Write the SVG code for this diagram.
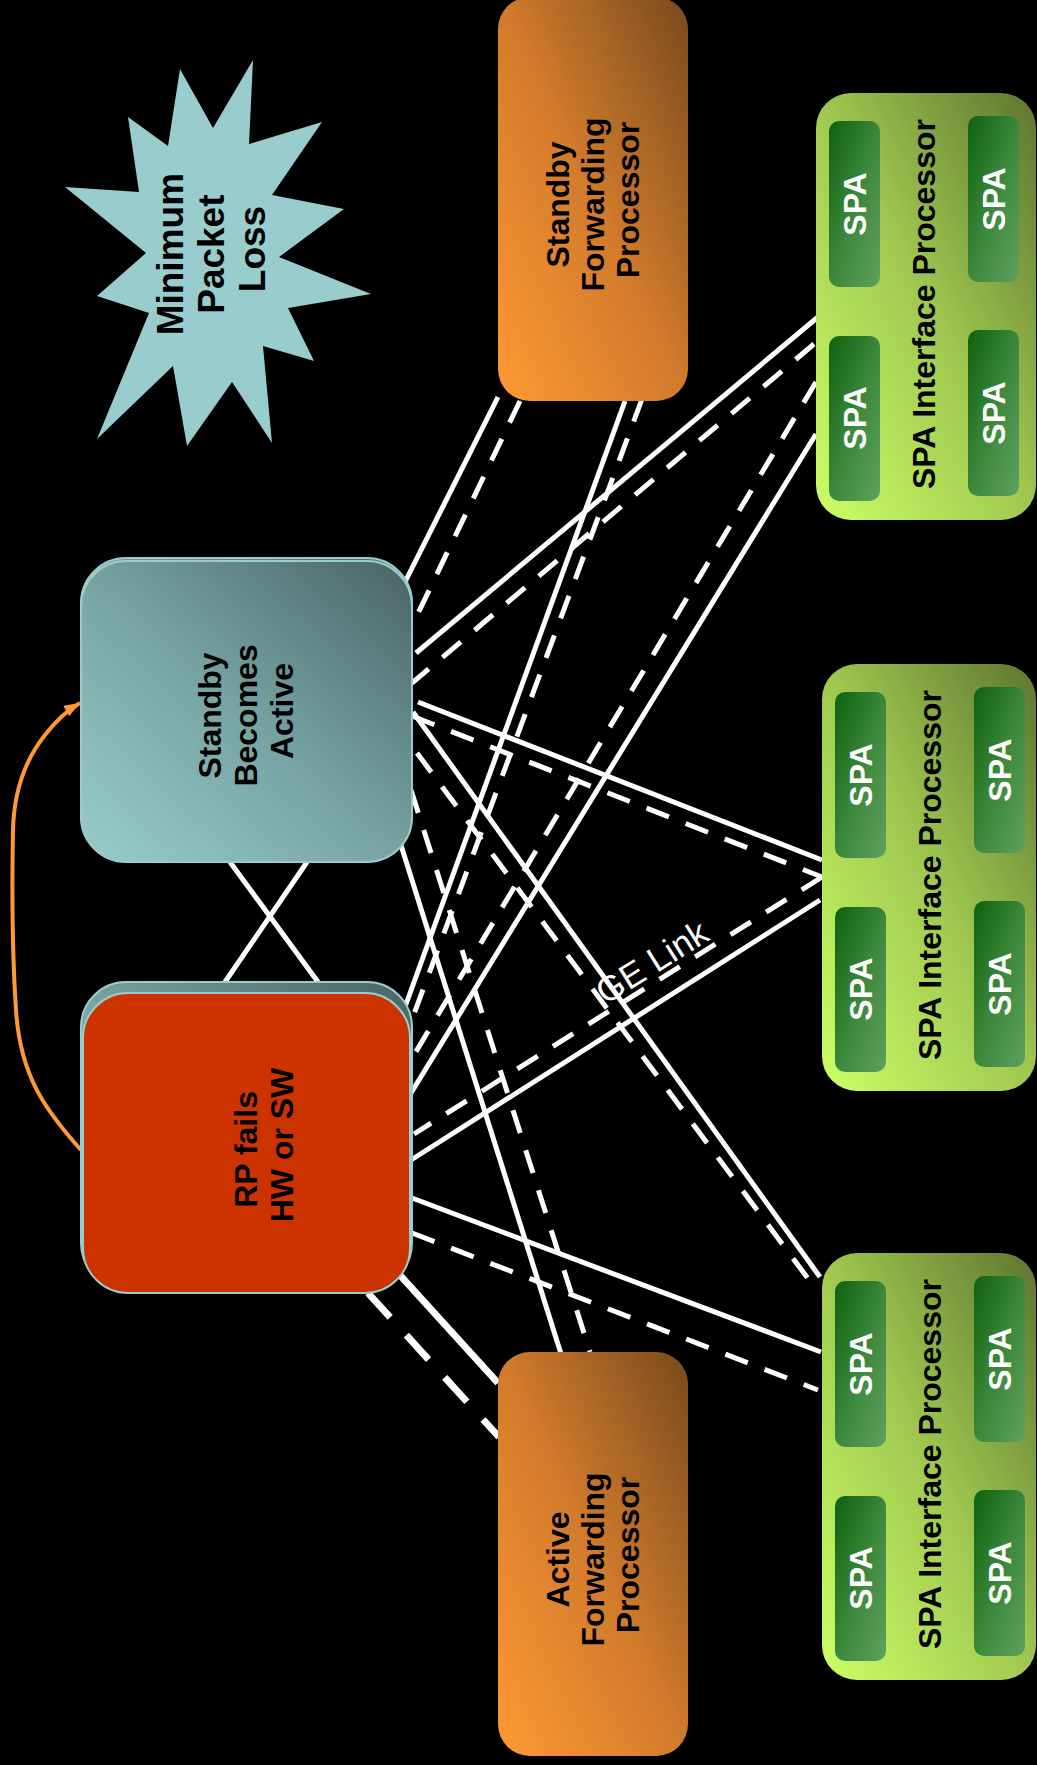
<svg xmlns="http://www.w3.org/2000/svg" width="1037" height="1765" viewBox="0 0 1037 1765">
  <defs>
    <linearGradient id="gOrange" x1="0" y1="1" x2="1" y2="0">
      <stop offset="0" stop-color="#FF9933"/>
      <stop offset="0.5" stop-color="#D27B2C"/>
      <stop offset="1" stop-color="#774A1C"/>
    </linearGradient>
    <linearGradient id="gTeal" x1="0" y1="1" x2="1" y2="0">
      <stop offset="0" stop-color="#99CCCC"/>
      <stop offset="0.5" stop-color="#76A2A2"/>
      <stop offset="1" stop-color="#4A6363"/>
    </linearGradient>
    <linearGradient id="gLime" x1="0" y1="1" x2="1" y2="0">
      <stop offset="0" stop-color="#CCFF66"/>
      <stop offset="0.5" stop-color="#A0C850"/>
      <stop offset="1" stop-color="#5E7530"/>
    </linearGradient>
    <linearGradient id="gSpa" x1="0" y1="0" x2="1" y2="1">
      <stop offset="0" stop-color="#0E620E"/>
      <stop offset="0.55" stop-color="#3F8A3F"/>
      <stop offset="1" stop-color="#5FA05F"/>
    </linearGradient>
    <marker id="arrowHead" markerUnits="userSpaceOnUse" markerWidth="18" markerHeight="14" refX="16" refY="7" orient="auto">
      <path d="M0,1 L16,7 L0,13 Z" fill="#FF9933"/>
    </marker>
    <style>
      .lbl { font-family: "Liberation Sans", Arial, sans-serif; font-weight: bold; fill: #000; text-anchor: middle; }
      .spa { font-family: "Liberation Sans", Arial, sans-serif; font-weight: bold; fill: #fff; text-anchor: middle; font-size: 32px; }
      .ln { stroke: #fff; stroke-width: 5; fill: none; }
      .dash { stroke-dasharray: 24 18; }
      .thick { stroke-width: 7; }
      .thickdash { stroke-dasharray: 33 24; }
      .tealbox { fill: url(#gTeal); stroke: #99CCCC; stroke-width: 2; }
      .fp { fill: url(#gOrange); }
      .ip { fill: url(#gLime); }
      .card { fill: url(#gSpa); }
    </style>
  </defs>

  <rect x="0" y="0" width="1037" height="1765" fill="#000"/>

  <!-- links between route processors, forwarding processors and interface processors -->
  <g id="connectors">
    <line class="ln" x1="230" y1="862" x2="318" y2="982"/>
    <line class="ln" x1="307" y1="862" x2="225" y2="982"/>

    <line class="ln" x1="498" y1="397" x2="404" y2="584"/>
    <line class="ln dash" x1="520" y1="401" x2="411" y2="628"/>
    <line class="ln" x1="625" y1="401" x2="405" y2="1007"/>
    <line class="ln dash" x1="642" y1="399" x2="414" y2="1014"/>

    <line class="ln" x1="818" y1="317" x2="416" y2="653"/>
    <line class="ln dash" x1="814" y1="344" x2="412" y2="683"/>
    <line class="ln dash" x1="816" y1="382" x2="411" y2="1060"/>
    <line class="ln" x1="816" y1="434" x2="411" y2="1093"/>

    <line class="ln" x1="418" y1="702" x2="822" y2="860"/>
    <line class="ln dash" x1="412" y1="716" x2="822" y2="877"/>
    <line class="ln" x1="820" y1="900" x2="411" y2="1160"/>
    <line class="ln dash" x1="822" y1="877" x2="414" y2="1134"/>

    <line class="ln" x1="413" y1="712" x2="820" y2="1277"/>
    <line class="ln dash" x1="417" y1="753" x2="818" y2="1292"/>
    <line class="ln" x1="412" y1="1198" x2="821" y2="1352"/>
    <line class="ln dash" x1="412" y1="1233" x2="818" y2="1390"/>

    <line class="ln" x1="400" y1="842" x2="562" y2="1357"/>
    <line class="ln dash" x1="411" y1="790" x2="590" y2="1352"/>
    <line class="ln thick" x1="398" y1="1273" x2="498" y2="1383"/>
    <line class="ln thick thickdash" x1="368" y1="1293" x2="499" y2="1437"/>

    <text transform="translate(652,962) rotate(-32)" x="0" y="12" font-family="Liberation Sans, Arial, sans-serif" font-size="35" fill="#fff" text-anchor="middle">GE Link</text>

    <path d="M81,1150 C45,1110 20,1075 16,1010 C12,950 12,880 13,830 C14,790 25,760 45,735 C55,722 66,711 80,703" fill="none" stroke="#FF9933" stroke-width="4" marker-end="url(#arrowHead)"/>
  </g>

  <g id="packet-loss-burst">
    <polygon points="180,69 213,128 253,60 249,144 322,122 272,195 344,209 279,257 371,294 288,308 314,361 263,346 272,443 232,382 187,446 173,366 97,439 149,313 97,296 146,253 65,187 139,192 128,117 168,146" fill="#99CCCC"/>
    <text class="lbl" font-size="37" transform="translate(183,249) rotate(-90)">
      <tspan x="0" y="0">Minimum</tspan>
      <tspan x="0" y="41">Packet</tspan>
      <tspan x="0" y="82">Loss</tspan>
    </text>
  </g>

  <g id="standby-fp">
    <rect class="fp" x="498" y="-3" width="190" height="404" rx="32"/>
    <text class="lbl" font-size="32" transform="translate(569,200) rotate(-90)">
      <tspan x="0" y="0">Standby</tspan>
      <tspan x="0" y="35">Forwarding</tspan>
      <tspan x="0" y="70">Processor</tspan>
    </text>
  </g>

  <g id="active-fp">
    <rect class="fp" x="498" y="1352" width="190" height="404" rx="32"/>
    <text class="lbl" font-size="32" transform="translate(569,1555) rotate(-90)">
      <tspan x="0" y="0">Active</tspan>
      <tspan x="0" y="35">Forwarding</tspan>
      <tspan x="0" y="70">Processor</tspan>
    </text>
  </g>

  <g id="standby-rp">
    <rect class="tealbox" x="81" y="558" width="331" height="300" rx="45"/>
    <rect class="tealbox" x="81" y="561" width="331" height="301" rx="45"/>
    <text class="lbl" font-size="32" transform="translate(221,711) rotate(-90)">
      <tspan x="0" y="0">Standby</tspan>
      <tspan x="0" y="36">Becomes</tspan>
      <tspan x="0" y="72">Active</tspan>
    </text>
  </g>

  <g id="failed-rp">
    <rect class="tealbox" x="81" y="982" width="331" height="306" rx="45"/>
    <rect x="83" y="993" width="327" height="300" rx="45" fill="#CC3300" stroke="#99CCCC" stroke-width="2"/>
    <text class="lbl" font-size="32" transform="translate(257,1145) rotate(-90)">
      <tspan x="0" y="0">RP fails</tspan>
      <tspan x="0" y="36">HW or SW</tspan>
    </text>
  </g>

  <g id="spa-ip-1" transform="translate(816,93)">
    <rect class="ip" x="0" y="0" width="220" height="427" rx="35"/>
    <rect class="card" x="13" y="28" width="51" height="166" rx="10"/>
    <rect class="card" x="13" y="243" width="51" height="165" rx="10"/>
    <rect class="card" x="152" y="23" width="51" height="166" rx="10"/>
    <rect class="card" x="152" y="237" width="51" height="166" rx="10"/>
    <text class="spa" transform="translate(50,111) rotate(-90)">SPA</text>
    <text class="spa" transform="translate(50,325) rotate(-90)">SPA</text>
    <text class="spa" transform="translate(189,106) rotate(-90)">SPA</text>
    <text class="spa" transform="translate(189,320) rotate(-90)">SPA</text>
    <text class="lbl" font-size="32" transform="translate(119,211) rotate(-90)">SPA Interface Processor</text>
  </g>

  <g id="spa-ip-2" transform="translate(822,664)">
    <rect class="ip" x="0" y="0" width="214" height="427" rx="35"/>
    <rect class="card" x="13" y="28" width="51" height="166" rx="10"/>
    <rect class="card" x="13" y="243" width="51" height="165" rx="10"/>
    <rect class="card" x="152" y="23" width="51" height="166" rx="10"/>
    <rect class="card" x="152" y="237" width="51" height="166" rx="10"/>
    <text class="spa" transform="translate(50,111) rotate(-90)">SPA</text>
    <text class="spa" transform="translate(50,325) rotate(-90)">SPA</text>
    <text class="spa" transform="translate(189,106) rotate(-90)">SPA</text>
    <text class="spa" transform="translate(189,320) rotate(-90)">SPA</text>
    <text class="lbl" font-size="32" transform="translate(119,211) rotate(-90)">SPA Interface Processor</text>
  </g>

  <g id="spa-ip-3" transform="translate(822,1253)">
    <rect class="ip" x="0" y="0" width="214" height="427" rx="35"/>
    <rect class="card" x="13" y="28" width="51" height="166" rx="10"/>
    <rect class="card" x="13" y="243" width="51" height="165" rx="10"/>
    <rect class="card" x="152" y="23" width="51" height="166" rx="10"/>
    <rect class="card" x="152" y="237" width="51" height="166" rx="10"/>
    <text class="spa" transform="translate(50,111) rotate(-90)">SPA</text>
    <text class="spa" transform="translate(50,325) rotate(-90)">SPA</text>
    <text class="spa" transform="translate(189,106) rotate(-90)">SPA</text>
    <text class="spa" transform="translate(189,320) rotate(-90)">SPA</text>
    <text class="lbl" font-size="32" transform="translate(119,211) rotate(-90)">SPA Interface Processor</text>
  </g>
</svg>
